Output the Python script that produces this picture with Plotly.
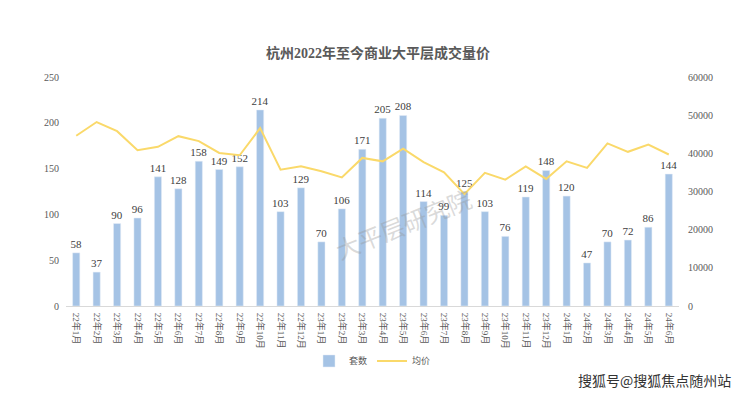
import plotly.graph_objects as go

months = ["22年1月","22年2月","22年3月","22年4月","22年5月","22年6月","22年7月","22年8月","22年9月","22年10月",
          "22年11月","22年12月","23年1月","23年2月","23年3月","23年4月","23年5月","23年6月","23年7月","23年8月",
          "23年9月","23年10月","23年11月","23年12月","24年1月","24年2月","24年3月","24年4月","24年5月","24年6月"]
units = [58,37,90,96,141,128,158,149,152,214,103,129,70,106,171,205,208,114,99,125,103,76,119,148,120,47,70,72,86,144]
avg_price = [44600,48200,45800,40800,41700,44500,43200,40100,39500,46600,35700,36600,35300,33700,38800,37900,
             41200,37700,35000,29300,34900,33100,36600,33300,37900,36200,42600,40400,42300,39700]

font_fam = "Liberation Serif, Noto Sans CJK SC, serif"

fig = go.Figure()
fig.add_trace(go.Bar(
    x=months, y=units, name="套数", marker_color="#A5C3E5",
    text=units, textposition="outside", constraintext="none",
    textfont=dict(size=11, color="#404040", family=font_fam),
    cliponaxis=False, yaxis="y"))
fig.add_trace(go.Scatter(
    x=months, y=avg_price, name="均价", mode="lines",
    line=dict(color="#FAD96A", width=2), yaxis="y2"))

fig.update_layout(
    width=740, height=393,
    margin=dict(l=58, r=69, t=69, b=95),
    paper_bgcolor="white", plot_bgcolor="white",
    font=dict(family=font_fam, color="#595959", size=10),
    title=dict(text="<b>杭州2022年至今商业大平层成交量价</b>", x=0.5, xanchor="center",
               y=1-45/393, yanchor="middle", font=dict(size=14, color="#595959", family=font_fam)),
    bargap=0.65,
    showlegend=True,
    legend=dict(orientation="h", x=0.5, xanchor="center", y=-0.24, yanchor="middle",
                font=dict(size=9, color="#595959"), itemwidth=30),
    xaxis=dict(tickangle=90, showgrid=False, showline=True, linecolor="#D9D9D9",
               tickfont=dict(size=9, color="#595959"), ticks="", ticklabelstandoff=4),
    yaxis=dict(range=[0,250], dtick=50, showgrid=False, zeroline=False, showline=False,
               tickfont=dict(size=10, color="#595959"), ticklabelstandoff=6),
    yaxis2=dict(range=[0,60000], dtick=10000, tickformat="d", overlaying="y", side="right", showgrid=False,
                zeroline=False, showline=False, tickfont=dict(size=10, color="#595959"),
                ticklabelstandoff=8),
    annotations=[
        dict(text="搜狐号@搜狐焦点随州站", xref="paper", yref="paper", x=1.088, y=-0.325,
             xanchor="right", yanchor="middle", showarrow=False,
             font=dict(size=14, color="#333333", family="Noto Sans CJK SC")),
        dict(text="大平层研究院", xref="paper", yref="paper", x=0.55, y=0.36,
             xanchor="center", yanchor="middle", showarrow=False, textangle=-22,
             font=dict(size=24, color="rgba(150,150,150,0.35)", family="Noto Sans CJK SC")),
    ],
)

fig.write_html("out.html")
